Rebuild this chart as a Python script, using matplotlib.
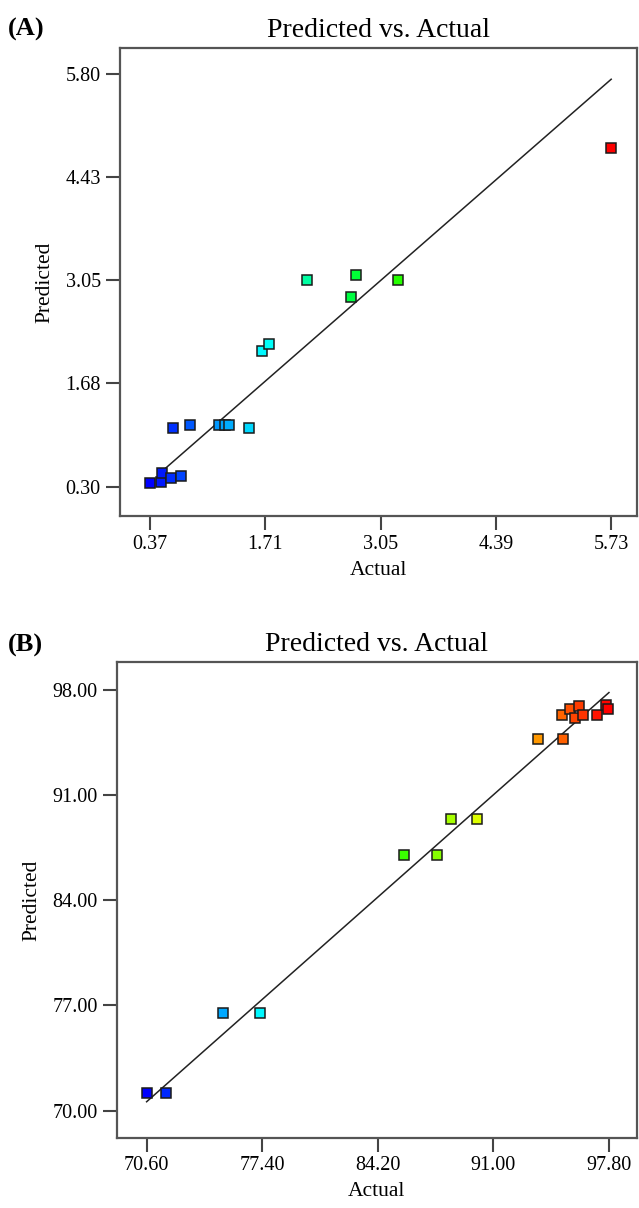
"""
Predicted vs. Actual plots for the two responses (A) and (B)
"""

import matplotlib
matplotlib.use("Agg")
import matplotlib.pyplot as plt
from matplotlib.colors import LinearSegmentedColormap, Normalize

plt.rcParams["font.family"] = ["Liberation Serif", "DejaVu Serif"]

# panel A data
actual_a = [0.37, 0.50, 0.51, 0.61, 0.73, 0.64, 0.84, 1.17, 1.24, 1.29,
            1.52, 1.67, 1.75, 2.20, 2.70, 2.76, 3.25, 5.73]
predicted_a = [0.36, 0.37, 0.48, 0.42, 0.44, 1.08, 1.13, 1.13, 1.13, 1.13,
               1.08, 2.11, 2.20, 3.06, 2.83, 3.12, 3.06, 4.81]
line_a = [0.54, 5.73]
xticks_a = [0.37, 1.71, 3.05, 4.39, 5.73]
yticks_a = [0.30, 1.68, 3.05, 4.43, 5.80]

# panel B data
actual_b = [70.60, 71.73, 75.10, 77.27, 85.72, 87.71, 88.52, 90.02, 93.64,
            95.12, 95.02, 95.53, 96.06, 95.83, 96.30, 97.11, 97.60, 97.72]
predicted_b = [71.21, 71.21, 76.48, 76.48, 86.99, 86.99, 89.39, 89.39, 94.68,
               94.68, 96.34, 96.70, 96.89, 96.13, 96.34, 96.34, 96.96, 96.72]
line_b = [70.60, 97.80]
xticks_b = [70.60, 77.40, 84.20, 91.00, 97.80]
yticks_b = [70.00, 77.00, 84.00, 91.00, 98.00]

# design-expert style colour scale (low -> high)
cmap = LinearSegmentedColormap.from_list(
    "de", ["#0000ff", "#00ffff", "#00ff00", "#ffff00", "#ff0000"])

W, H = 639, 1208
fig = plt.figure(figsize=(W / 100, H / 100), dpi=100)


def px_axes(left, top, right, bottom):
    return fig.add_axes([left / W, 1 - bottom / H, (right - left) / W, (bottom - top) / H])


def draw_panel(ax, actual, predicted, line, xticks, yticks, xlim, ylim):
    norm = Normalize(min(actual), max(actual))
    ax.plot(line, line, color="#222222", lw=1.1, zorder=2)
    for x, y in zip(actual, predicted):
        ax.plot(x, y, marker="s", ms=7.8, mfc=cmap(norm(x)), mec="#1a1a1a",
                mew=1.1, ls="none", zorder=3)
    ax.set_xlim(xlim)
    ax.set_ylim(ylim)
    ax.set_xticks(xticks)
    ax.set_yticks(yticks)
    ax.set_xticklabels([f"{t:.2f}" for t in xticks])
    ax.set_yticklabels([f"{t:.2f}" for t in yticks])
    ax.tick_params(direction="out", length=10, width=1.5, color="#444444",
                   labelsize=14.5, pad=3.5)
    for s in ax.spines.values():
        s.set_color("#555555")
        s.set_linewidth(1.6)
    ax.set_title("Predicted vs. Actual", fontsize=20, pad=8)
    ax.set_xlabel("Actual", fontsize=15.5, labelpad=5)
    ax.set_ylabel("Predicted", fontsize=15.5, labelpad=8)


ax_a = px_axes(119.5, 48, 637, 516)
draw_panel(ax_a, actual_a, predicted_a, line_a, xticks_a, yticks_a,
           (0.015, 6.03), (-0.086, 6.146))

ax_b = px_axes(116.7, 662, 637, 1137.7)
draw_panel(ax_b, actual_b, predicted_b, line_b, xticks_b, yticks_b,
           (68.84, 99.45), (68.21, 99.83))

fig.text(8 / W, 1 - 29 / H, "(A)", fontsize=19, fontweight="bold", va="center")
fig.text(8 / W, 1 - 645 / H, "(B)", fontsize=19, fontweight="bold", va="center")

fig.savefig("out.png", dpi=100)
print("saved out.png")
